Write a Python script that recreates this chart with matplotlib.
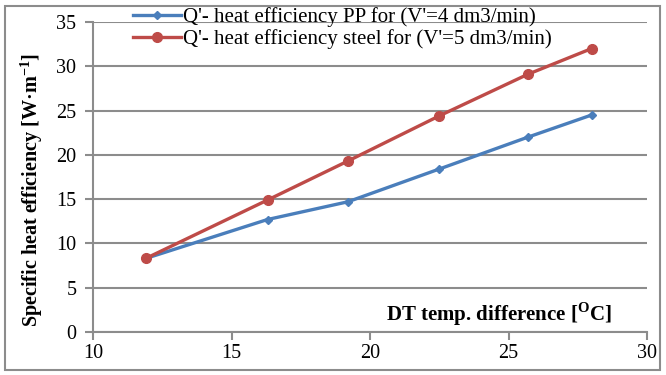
import matplotlib.pyplot as plt
from matplotlib.patches import Rectangle

plt.rcParams['font.family'] = ['Liberation Serif', 'DejaVu Serif']
plt.rcParams['mathtext.fontset'] = 'custom'
plt.rcParams['mathtext.rm'] = 'Liberation Serif'
plt.rcParams['mathtext.bf'] = 'Liberation Serif:bold'

dt = [11.9, 16.3, 19.2, 22.5, 25.7, 28.0]
q_pp = [8.3, 12.7, 14.7, 18.4, 22.0, 24.5]
q_steel = [8.3, 14.9, 19.3, 24.4, 29.1, 32.0]
label_pp = "Q'- heat efficiency PP for (V'=4 dm3/min)"
label_steel = "Q'- heat efficiency steel for (V'=5 dm3/min)"

grey = '#8c8c8c'

fig = plt.figure(figsize=(6.66, 3.75), dpi=100)
ax = fig.add_axes([93 / 666, 1 - 332 / 375, (647 - 93) / 666, (332 - 22) / 375])

ax.plot(dt, q_pp, color='#4a7ebb', lw=2.4, marker='D', ms=4, label=label_pp)
ax.plot(dt, q_steel, color='#be4b48', lw=2.4, marker='o', ms=7, label=label_steel)

ax.set_xlim(10, 30)
ax.set_ylim(0, 35)
ax.set_xticks(range(10, 31, 5))
ax.set_yticks(range(0, 36, 5))
ax.yaxis.grid(True, color=grey, lw=1.5)
ax.set_axisbelow(True)
for s in ['top', 'right']:
    ax.spines[s].set_visible(False)
for s in ['left', 'bottom']:
    ax.spines[s].set_color(grey)
    ax.spines[s].set_linewidth(1.5)
ax.tick_params(colors=grey, labelcolor='black', labelsize=14.5, length=6, width=1.5)
ax.tick_params(axis='y', pad=6)
ax.tick_params(axis='x', pad=3)

ax.set_ylabel('Specific heat efficiency [W·m$^{\\mathbf{-1}}$]', fontsize=14.5,
              fontweight='bold', labelpad=8)
ax.yaxis.label.set_y(0.458)
ax.text(0.937, 0.012, 'DT temp. difference [$^{\\mathbf{O}}$C]', transform=ax.transAxes,
        ha='right', va='bottom', fontsize=15, fontweight='bold')

leg = ax.legend(loc='upper left', bbox_to_anchor=(133 / 666, 1 - 7 / 375),
                bbox_transform=fig.transFigure, frameon=False,
                fontsize=15, handlelength=2.3, handletextpad=0.1, labelspacing=0.1,
                borderpad=0, borderaxespad=0)

fig.patches.append(Rectangle((5 / 666, 5 / 375), 655 / 666, 364 / 375,
                             transform=fig.transFigure, fill=False,
                             edgecolor=grey, lw=1.5))

fig.savefig('out.png', dpi=100)
